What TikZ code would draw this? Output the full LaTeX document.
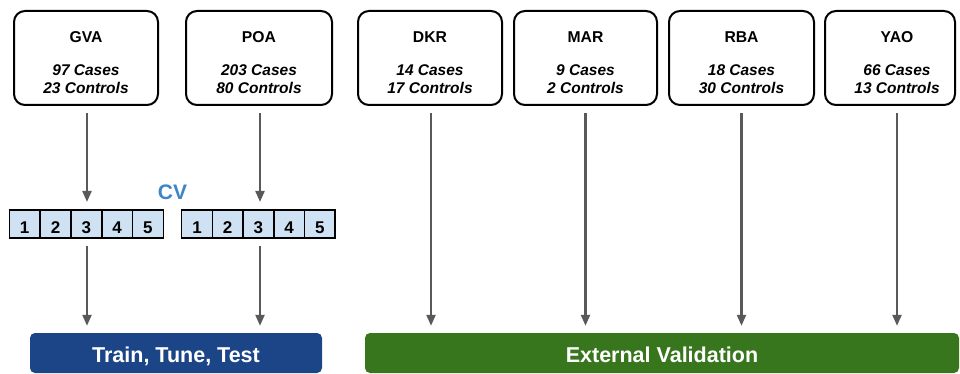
\documentclass[tikz,border=0pt]{standalone}
\usepackage{fontspec}
\setmainfont{Liberation Sans}
\usetikzlibrary{arrows.meta}
\definecolor{arrgray}{HTML}{595959}
\definecolor{cellblue}{HTML}{CFE2F3}
\definecolor{cvblue}{HTML}{3D85C6}
\definecolor{barblue}{HTML}{1C4587}
\definecolor{bargreen}{HTML}{38761D}
\tikzset{
  sitebox/.style={draw=black, line width=2pt, rounded corners=11pt, minimum height=94pt, inner sep=0pt},
  head/.style={anchor=base, font=\fontsize{15.7}{18}\selectfont\bfseries, inner sep=0pt},
  cnt/.style={anchor=base, font=\fontsize{15.5}{18}\selectfont\bfseries\itshape, inner sep=0pt},
  fold/.style={draw=black, line width=1.6pt, fill=cellblue, minimum width=30.8pt, minimum height=28.5pt, inner sep=0pt},
  foldnum/.style={anchor=base, font=\fontsize{17}{18}\selectfont\bfseries, inner sep=0pt},
  bar/.style={rounded corners=5pt, minimum height=40pt, inner sep=0pt},
  bartext/.style={anchor=base, text=white, font=\fontsize{21.5}{24}\selectfont\bfseries, inner sep=0pt},
  arr/.style={draw=arrgray, line width=2.2pt, -{Triangle[width=9pt,length=11pt]}, shorten <=7pt, shorten >=7pt},
}
\begin{document}
\begin{tikzpicture}[x=1pt,y=-1pt]
\useasboundingbox (0,0) rectangle (960,374);
% site boxes
\node[sitebox, minimum width=144pt] (gva) at (86,58) {};
\node[sitebox, minimum width=146pt] (poa) at (259,58) {};
\node[sitebox, minimum width=144pt] (dkr) at (430,58) {};
\node[sitebox, minimum width=143pt] (mar) at (585.5,58) {};
\node[sitebox, minimum width=145pt] (rba) at (741.5,58) {};
\node[sitebox, minimum width=130pt] (yaobox) at (890,58) {};
% texts
\node[head] (gvah) at (86,42.7) {GVA};
\node[cnt] (gvac) at (86,76) {97 Cases};
\node[cnt] (gvak) at (86,94) {23 Controls};
\node[head] (poah) at (259,42.7) {POA};
\node[cnt] (poac) at (259,76) {203 Cases};
\node[cnt] (poak) at (259,94) {80 Controls};
\node[head] (dkrh) at (430,42.7) {DKR};
\node[cnt] (dkrc) at (430,76) {14 Cases};
\node[cnt] (dkrk) at (430,94) {17 Controls};
\node[head] (marh) at (585.5,42.7) {MAR};
\node[cnt] (marc) at (585.5,76) {9 Cases};
\node[cnt] (mark) at (585.5,94) {2 Controls};
\node[head] (rbah) at (741.5,42.7) {RBA};
\node[cnt] (rbac) at (741.5,76) {18 Cases};
\node[cnt] (rbak) at (741.5,94) {30 Controls};
\node[head] (yaoh) at (897,42.7) {YAO};
\node[cnt] (yaoc) at (897,76) {66 Cases};
\node[cnt] (yaok) at (897,94) {13 Controls};
\coordinate (yaos) at (897,106);
% CV label
\node[anchor=base, text=cvblue, font=\fontsize{21}{24}\selectfont\bfseries, inner sep=0pt] (cv) at (172.5,200) {CV};
% folds left
\foreach \i/\x in {1/24.7,2/55.5,3/86.3,4/117.1,5/147.9}{
  \node[fold] (g\i) at (\x,224) {};
  \node[foldnum] (gn\i) at (\x,233) {\i};
}
% folds right
\foreach \i/\x in {1/197,2/227.7,3/258.4,4/289.1,5/319.8}{
  \node[fold, minimum width=30.7pt] (p\i) at (\x,224) {};
  \node[foldnum] (pn\i) at (\x,233) {\i};
}
% bars
\node[bar, fill=barblue, minimum width=292pt] (train) at (176,353) {};
\node[bartext] (traint) at (176,362.5) {Train, Tune, Test};
\node[bar, fill=bargreen, minimum width=594pt] (ext) at (662,353) {};
\node[bartext] (extt) at (662,362.5) {External Validation};
% arrows
\draw[arr] ([xshift=1pt]gva.south) -- ([xshift=1pt]gva.south |- g3.north);
\draw[arr] ([xshift=1pt]gva.south |- g3.south) -- ([xshift=1pt]gva.south |- train.north);
\draw[arr] ([xshift=1pt]poa.south) -- ([xshift=1pt]poa.south |- p3.north);
\draw[arr] ([xshift=1pt]poa.south |- p3.south) -- ([xshift=1pt]poa.south |- ext.north);
\draw[arr] ([xshift=1pt]dkr.south) -- ([xshift=1pt]dkr.south |- ext.north);
\draw[arr] (mar.south) -- (mar.south |- ext.north);
\draw[arr] (rba.south) -- (rba.south |- ext.north);
\draw[arr] (yaos) -- (yaos |- ext.north);
\end{tikzpicture}
\end{document}
